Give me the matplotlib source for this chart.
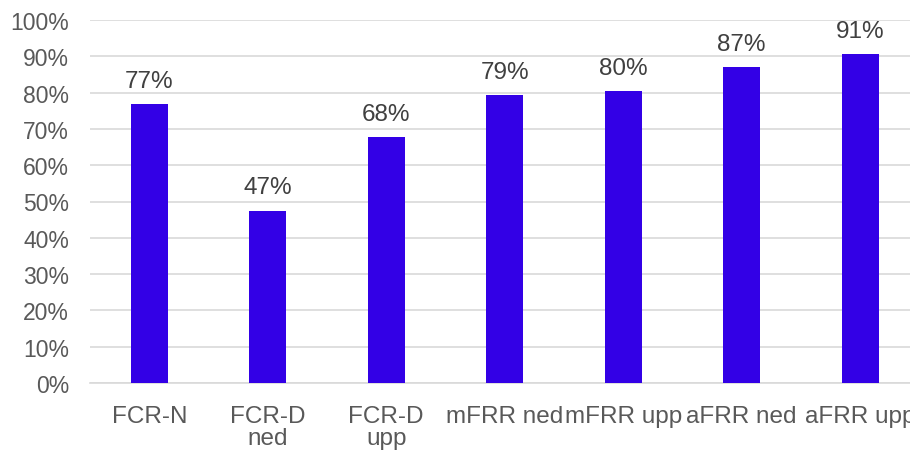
import numpy as np
import matplotlib.pyplot as plt
from matplotlib.ticker import PercentFormatter

plt.rcParams["font.family"] = ["Liberation Sans", "DejaVu Sans"]
plt.rcParams["font.size"] = 17

categories = ["FCR-N", "FCR-D\nned", "FCR-D\nupp", "mFRR ned", "mFRR upp", "aFRR ned", "aFRR upp"]
values = [0.768, 0.474, 0.677, 0.793, 0.804, 0.870, 0.906]
labels = ["77%", "47%", "68%", "79%", "80%", "87%", "91%"]

bar_color = "#3300E6"
text_color = "#595959"
grid_color = "#D9D9D9"

fig = plt.figure(figsize=(9.10, 4.52), dpi=100)
# plot area runs past the right edge, like the source
ax = fig.add_axes([90 / 910, 68 / 452, 829.5 / 910, 363 / 452])

x = np.arange(len(categories))
bars = ax.bar(x, values, width=0.31, color=bar_color, zorder=3)

for b, lab in zip(bars, labels):
    ax.annotate(lab, (b.get_x() + b.get_width() / 2, b.get_height()),
                xytext=(0, 9), textcoords="offset points",
                ha="center", va="bottom", color="#404040", fontsize=17.5)

ax.set_xlim(-0.5, len(categories) - 0.5)
ax.set_ylim(0, 1)
ax.set_yticks(np.arange(0, 1.01, 0.1))
ax.yaxis.set_major_formatter(PercentFormatter(1.0, decimals=0))
ax.set_xticks(x)
ax.set_xticklabels(categories, linespacing=1.0)

ax.grid(axis="y", color=grid_color, linewidth=1.2, zorder=0)
for s in ["top", "right", "left"]:
    ax.spines[s].set_visible(False)
ax.spines["bottom"].set_color(grid_color)
ax.spines["bottom"].set_linewidth(1.2)
ax.tick_params(axis="both", length=0, colors=text_color)
ax.tick_params(axis="y", pad=15, labelsize=16.5)
ax.tick_params(axis="x", pad=15.5, labelsize=17.5)

fig.savefig("out.png", dpi=100)
